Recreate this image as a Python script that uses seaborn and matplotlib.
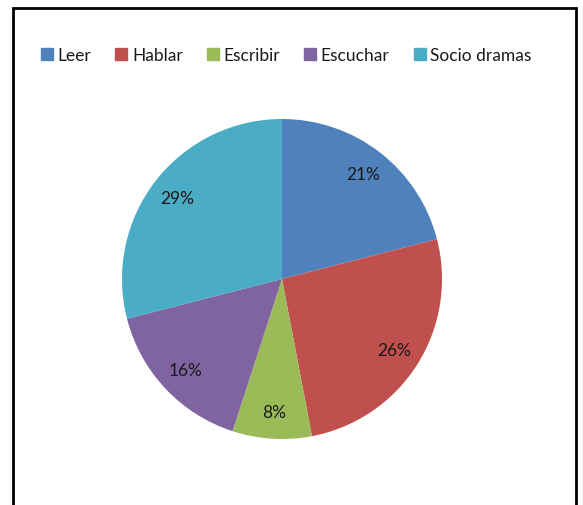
import matplotlib
matplotlib.use("Agg")
import matplotlib.pyplot as plt
import seaborn as sns
from matplotlib.patches import Rectangle
from matplotlib.lines import Line2D

categories = ["Leer", "Hablar", "Escribir", "Escuchar", "Socio dramas"]
values = [21, 26, 8, 16, 29]
colors = ["#4F81BD", "#C0504D", "#9BBB59", "#8064A2", "#4BACC6"]

sns.set_theme(style="white")
plt.rcParams['font.family'] = ['Lato', 'DejaVu Sans']

W, H = 583, 506
fig = plt.figure(figsize=(W / 100, H / 100), dpi=100)
fig.patch.set_facecolor("white")

# outer border (bottom edge is cut off in the reference)
border = Rectangle((13 / W, -0.05), (576 - 13) / W, (H - 9) / H + 0.05,
                   transform=fig.transFigure, fill=False, edgecolor="black",
                   linewidth=2.0, zorder=10)
fig.add_artist(border)

cx, cy, r = 282, 280, 160
ax = fig.add_axes([(cx - r) / W, (H - cy - r) / H, 2 * r / W, 2 * r / H])
wedges, texts, autotexts = ax.pie(
    values, colors=colors, startangle=90, counterclock=False,
    autopct=lambda p: f"{p:.0f}%", pctdistance=0.83,
    wedgeprops=dict(linewidth=0),
    textprops=dict(fontsize=12.5, color="#1a1a1a"))
ax.set_xlim(-1, 1)
ax.set_ylim(-1, 1)
ax.set_aspect("equal")
ax.axis("off")

handles = [Line2D([0], [0], marker="s", linestyle="none", markersize=8,
                  markerfacecolor=c, markeredgecolor=c) for c in colors]
fig.legend(handles, categories, loc="center", bbox_to_anchor=(285 / W, 1 - 56 / H),
           ncol=5, frameon=False, fontsize=12.5, handletextpad=0.1,
           columnspacing=1.25, handlelength=1.0, labelcolor="#1a1a1a")

fig.savefig("out.png", dpi=100, facecolor="white")
